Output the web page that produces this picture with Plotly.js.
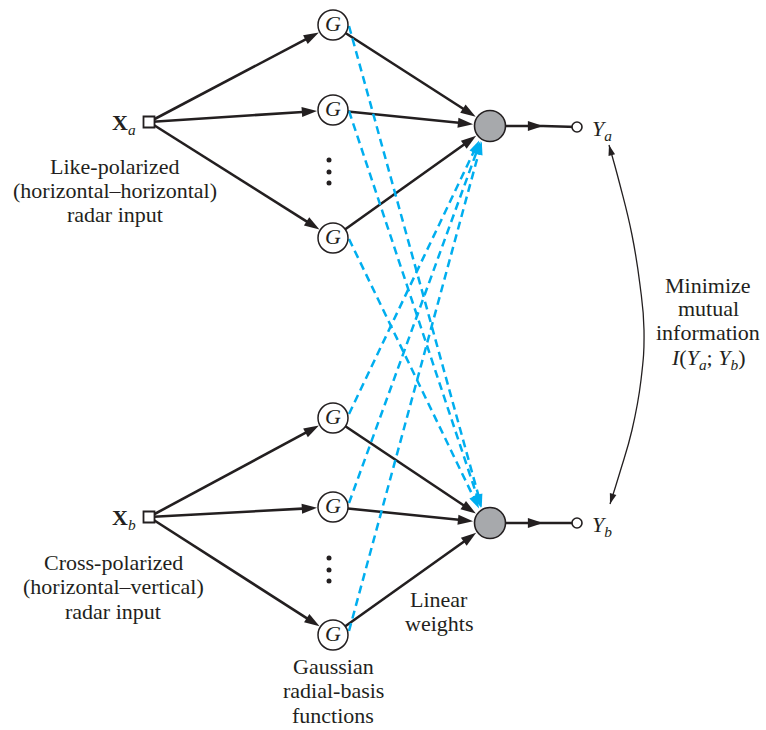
<!DOCTYPE html>
<html><head><meta charset="utf-8">
<script src="https://cdn.plot.ly/plotly-3.0.1.min.js"></script>
<style>html,body{margin:0;padding:0;background:#fff}</style>
</head><body><div id="chart" style="width:766px;height:730px"></div>
<script>
// ---- diagram data (pixel-space node positions) ----
const gaussX = [333, 333, 333, 333, 333, 333];
const gaussY = [25, 110, 238, 418, 507, 635];
const gaussGroup = [0, 0, 0, 1, 1, 1];
const inputX = [149, 149];
const inputY = [122, 517];
const inputLabels = ['<b>X</b><sub><i>a</i></sub>', '<b>X</b><sub><i>b</i></sub>'];
const sumX = [490, 490];
const sumY = [126, 523];
const outX = [577, 577];
const outY = [127, 523];
const outLabels = ['<i>Y</i><sub><i>a</i></sub>', '<i>Y</i><sub><i>b</i></sub>'];
const dotX = [329, 329, 329, 329, 329, 329];
const dotY = [160, 172, 183, 558, 570, 581];
const curveX = [609, 620, 632, 640, 644, 641, 632, 620, 610];
const curveY = [145, 185, 235, 285, 330, 380, 430, 472, 504];
const inputText = [['Like-polarized', '(horizontal–horizontal)', 'radar input'],
                   ['Cross-polarized', '(horizontal–vertical)', 'radar input']];
const rbfText = ['Gaussian', 'radial-basis', 'functions'];
const weightText = ['Linear', 'weights'];
const miText = ['Minimize', 'mutual', 'information',
  '<i>I</i>(<i>Y</i><sub><i>a</i></sub>; <i>Y</i><sub><i>b</i></sub>)'];

// ---- styles ----
const INK = '#231f20', BLUE = '#00aeef', GRAY = '#a7a9ac';
const SERIF = "'Liberation Serif', 'Times New Roman', serif";
const FS = 22;
const G_R = 15, SUM_R = 16;

const traces = [];
function arrow(x0, y0, x1, y1, color, width, headSize, standoff, dash) {
  traces.push({
    type: 'scatter', mode: 'lines+markers', x: [x0, x1], y: [y0, y1],
    line: {color: color, width: width, dash: dash || 'solid'},
    marker: {symbol: 'arrow', size: [0, headSize], angleref: 'previous', opacity: 1,
             standoff: standoff, color: color, line: {width: 0}},
    hoverinfo: 'skip', cliponaxis: false
  });
}

// black: inputs -> gaussians
gaussX.forEach((gx, i) => {
  const k = gaussGroup[i];
  arrow(inputX[k], inputY[k], gx, gaussY[i], INK, 2.6, 16, G_R + 1);
});
// black: gaussians -> summing nodes
gaussX.forEach((gx, i) => {
  const k = gaussGroup[i];
  arrow(gx, gaussY[i], sumX[k], sumY[k], INK, 2.6, 16, SUM_R + 1);
});
// sum -> output, arrowhead partway along
sumX.forEach((sx, k) => {
  const tipX = sx + 0.61 * (outX[k] - sx);
  traces.push({
    type: 'scatter', mode: 'lines+markers',
    x: [sx, tipX, outX[k]], y: [sumY[k], sumY[k], outY[k]],
    line: {color: INK, width: 2.6, backoff: 0},
    marker: {symbol: 'arrow', size: [0, 16, 0], angleref: 'previous', opacity: 1,
             color: INK, line: {width: 0}},
    hoverinfo: 'skip'
  });
});
// blue dashed cross connections
gaussX.forEach((gx, i) => {
  const k = 1 - gaussGroup[i];
  const sx = gx + G_R + 1;
  const sy = gaussY[i] + (k === 1 ? 1 : -4);
  arrow(sx, sy, sumX[k] - 4, sumY[k], BLUE, 2.5, 14, SUM_R, '8px,5px');
});

// curved mutual information arrow
traces.push({
  type: 'scatter', mode: 'lines', x: curveX, y: curveY,
  line: {color: INK, width: 1.3, shape: 'spline', smoothing: 1.3}, hoverinfo: 'skip'
});
const n = curveX.length;
[[1, 0], [n - 2, n - 1]].forEach(([a, b]) => {
  traces.push({
    type: 'scatter', mode: 'markers', x: [curveX[a], curveX[b]], y: [curveY[a], curveY[b]],
    marker: {symbol: 'arrow', size: [0, 11], angleref: 'previous', opacity: 1,
             color: INK, line: {width: 0}},
    hoverinfo: 'skip'
  });
});

// ellipsis dots
traces.push({type: 'scatter', mode: 'markers', x: dotX, y: dotY,
  marker: {size: 5, color: INK}, hoverinfo: 'skip'});
// input squares
traces.push({type: 'scatter', mode: 'markers', x: inputX, y: inputY,
  marker: {symbol: 'square', size: 11, color: '#fff', line: {color: INK, width: 1.8}}, hoverinfo: 'skip'});
// gaussian nodes
traces.push({type: 'scatter', mode: 'markers+text', x: gaussX, y: gaussY,
  text: gaussX.map(() => '<i>G</i>'), textposition: 'middle center',
  textfont: {family: SERIF, size: FS, color: INK},
  marker: {symbol: 'circle', size: 2 * G_R, color: '#fff', line: {color: INK, width: 1.5}}, hoverinfo: 'skip'});
// summing nodes
traces.push({type: 'scatter', mode: 'markers', x: sumX, y: sumY,
  marker: {symbol: 'circle', size: 2 * SUM_R - 1, color: GRAY, line: {color: INK, width: 1.6}}, hoverinfo: 'skip'});
// output nodes
traces.push({type: 'scatter', mode: 'markers', x: outX, y: outY,
  marker: {symbol: 'circle', size: 10, color: '#fff', line: {color: INK, width: 1.6}}, hoverinfo: 'skip'});

// ---- text annotations ----
const annotations = [];
function txt(text, x, y, xanchor) {
  annotations.push({text: text, x: x, y: y, xref: 'x', yref: 'y', showarrow: false,
    xanchor: xanchor || 'center', yanchor: 'middle',
    font: {family: SERIF, size: FS, color: INK}});
}
inputLabels.forEach((t, k) => txt(t, inputX[k] - 11, inputY[k] + 2, 'right'));
outLabels.forEach((t, k) => txt(t, outX[k] + 13, outY[k] + 3, 'left'));
inputText[0].forEach((t, j) => txt(t, 115, 166 + 24 * j));
inputText[1].forEach((t, j) => txt(t, 113, 562 + 24.5 * j));
rbfText.forEach((t, j) => txt(t, 333, 666 + 24.5 * j));
weightText.forEach((t, j) => txt(t, 439, 599 + 24 * j));
miText.forEach((t, j) => txt(t, 708, 285 + 23.7 * j + (j === 3 ? 3 : 0)));

const layout = {
  width: 766, height: 730,
  margin: {l: 0, r: 0, t: 0, b: 0},
  paper_bgcolor: '#fff', plot_bgcolor: '#fff',
  showlegend: false, hovermode: false,
  xaxis: {range: [0, 766], visible: false, fixedrange: true},
  yaxis: {range: [730, 0], visible: false, fixedrange: true},
  annotations: annotations
};
Plotly.newPlot('chart', traces, layout, {staticPlot: true, displayModeBar: false});
</script>
</body></html>
